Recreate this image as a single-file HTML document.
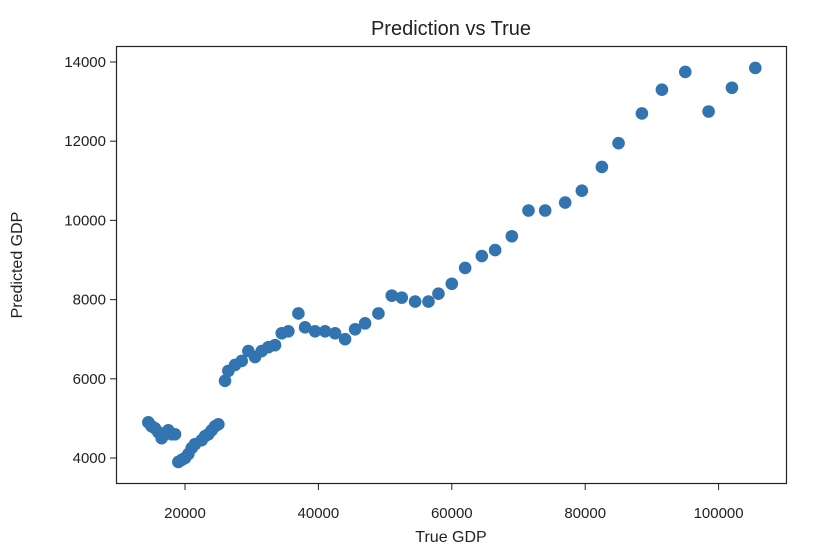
<!DOCTYPE html>
<html><head><meta charset="utf-8"><style>
body{margin:0;background:#fff;}
svg{display:block;font-family:"Liberation Sans","DejaVu Sans",sans-serif;}
</style></head><body>
<svg id="chart" width="834" height="560" viewBox="0 0 834 560">
<rect width="834" height="560" fill="#fff"/>
<text x="451" y="35" font-size="20" text-anchor="middle" fill="#222">Prediction vs True</text>
<text x="451" y="542" font-size="16" text-anchor="middle" fill="#222">True GDP</text>
<text transform="translate(22,265) rotate(-90)" font-size="16" text-anchor="middle" fill="#222">Predicted GDP</text>
<g id="marks"></g>
<g id="axes"></g>
<rect x="116.5" y="46.5" width="670" height="437" fill="none" stroke="#222" stroke-width="1.2"/>
</svg>
<script>
const xTicks=[20000,40000,60000,80000,100000];
const yTicks=[4000,6000,8000,10000,12000,14000];
const trueGdp=[14500,15000,15500,16000,16500,17000,17500,18000,18500,19000,19500,20000,20500,21000,21500,22500,23000,23500,24000,24500,25000,26000,26500,27500,28500,29500,30500,31500,32500,33500,34500,35500,37000,38000,39500,41000,42500,44000,45500,47000,49000,51000,52500,54500,56500,58000,60000,62000,64500,66500,69000,71500,74000,77000,79500,82500,85000,88500,91500,95000,98500,102000,105500];
const predGdp=[4900,4800,4750,4650,4500,4600,4700,4600,4600,3900,3950,4000,4100,4250,4350,4450,4550,4600,4700,4800,4850,5950,6200,6350,6450,6700,6550,6700,6800,6850,7150,7200,7650,7300,7200,7200,7150,7000,7250,7400,7650,8100,8050,7950,7950,8150,8400,8800,9100,9250,9600,10250,10250,10450,10750,11350,11950,12700,13300,13750,12750,13350,13850];
const NS='http://www.w3.org/2000/svg';
function xs(v){return 185+(v-20000)*133.4/20000;}
function ys(v){return 458-(v-4000)*39.6/1000;}
const marks=document.getElementById('marks'), axes=document.getElementById('axes');
for(let i=0;i<trueGdp.length;i++){
  const c=document.createElementNS(NS,'circle');
  c.setAttribute('cx',xs(trueGdp[i]));c.setAttribute('cy',ys(predGdp[i]));c.setAttribute('r',6.3);c.setAttribute('fill','#3274b0');
  
  
  marks.appendChild(c);
}
xTicks.forEach(t=>{
  const x=xs(t);
  const l=document.createElementNS(NS,'line');
  l.setAttribute('x1',x);l.setAttribute('x2',x);l.setAttribute('y1',484);l.setAttribute('y2',490);l.setAttribute('stroke','#222');
  
  
  axes.appendChild(l);
  const tx=document.createElementNS(NS,'text');
  tx.setAttribute('x',x);tx.setAttribute('y',518);tx.setAttribute('font-size','15');tx.setAttribute('text-anchor','middle');tx.setAttribute('fill','#222');
  tx.textContent=t;
  
  
  axes.appendChild(tx);
});
yTicks.forEach(t=>{
  const y=ys(t);
  const l=document.createElementNS(NS,'line');
  l.setAttribute('x1',110);l.setAttribute('x2',116);l.setAttribute('y1',y);l.setAttribute('y2',y);l.setAttribute('stroke','#222');
  
  
  axes.appendChild(l);
  const tx=document.createElementNS(NS,'text');
  tx.setAttribute('x',106);tx.setAttribute('y',y+5);tx.setAttribute('font-size','15');tx.setAttribute('text-anchor','end');tx.setAttribute('fill','#222');
  tx.textContent=t;
  
  
  axes.appendChild(tx);
});
</script>
</body></html>
